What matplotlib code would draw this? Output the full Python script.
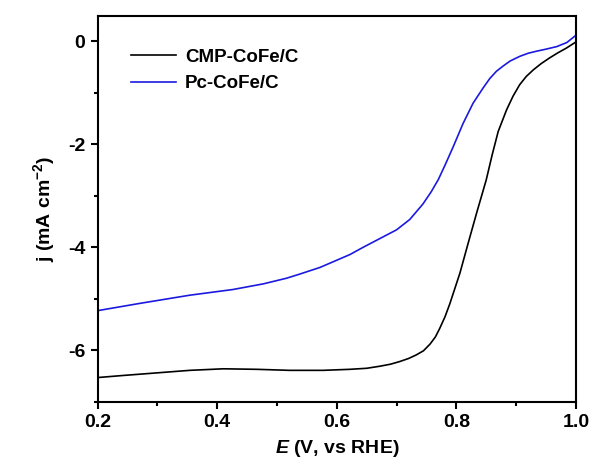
import matplotlib
matplotlib.use("Agg")
import matplotlib.pyplot as plt
from matplotlib.ticker import MultipleLocator

plt.rcParams['font.family'] = ['Liberation Sans', 'DejaVu Sans']
plt.rcParams['mathtext.fontset'] = 'custom'
plt.rcParams['mathtext.it'] = 'Liberation Sans:italic:bold'
plt.rcParams['mathtext.rm'] = 'Liberation Sans:bold'
plt.rcParams['mathtext.bf'] = 'Liberation Sans:bold'

# CMP-CoFe/C (black)
cmp_E = [0.200, 0.242, 0.298, 0.354, 0.410, 0.466, 0.521, 0.577, 0.622, 0.650,
         0.672, 0.690, 0.705, 0.720, 0.733, 0.745, 0.756, 0.765, 0.772, 0.781,
         0.789, 0.806, 0.820, 0.834, 0.850, 0.860, 0.870, 0.884, 0.895, 0.906,
         0.917, 0.929, 0.942, 0.956, 0.970, 0.984, 1.000]
cmp_j = [-6.53, -6.49, -6.44, -6.39, -6.36, -6.37, -6.39, -6.39, -6.37, -6.35,
         -6.31, -6.27, -6.22, -6.16, -6.09, -6.01, -5.88, -5.74, -5.58, -5.35,
         -5.10, -4.50, -3.91, -3.33, -2.69, -2.20, -1.75, -1.33, -1.06, -0.84,
         -0.68, -0.55, -0.43, -0.32, -0.22, -0.13, -0.01]

# Pc-CoFe/C (blue)
pc_E = [0.200, 0.270, 0.354, 0.426, 0.477, 0.516, 0.538, 0.572, 0.588, 0.622,
        0.644, 0.672, 0.700, 0.722, 0.744, 0.758, 0.770, 0.782, 0.795, 0.811,
        0.828, 0.845, 0.856, 0.867, 0.878, 0.890, 0.906, 0.920, 0.934, 0.950,
        0.968, 0.985, 1.000]
pc_j = [-5.23, -5.09, -4.93, -4.82, -4.71, -4.60, -4.52, -4.39, -4.31, -4.14,
        -4.00, -3.83, -3.66, -3.46, -3.16, -2.92, -2.68, -2.38, -2.04, -1.60,
        -1.20, -0.90, -0.72, -0.58, -0.48, -0.38, -0.29, -0.23, -0.19, -0.15,
        -0.10, -0.02, 0.12]

labels = ['CMP-CoFe/C', 'Pc-CoFe/C']
colors = ['#000000', '#1a1adf']

fig = plt.figure(figsize=(5.94, 4.76), dpi=100)
ax = fig.add_axes([0.1645, 0.156, 0.805, 0.811])

ax.plot(cmp_E, cmp_j, color=colors[0], lw=1.2, label=labels[0])
ax.plot(pc_E, pc_j, color=colors[1], lw=1.2, label=labels[1])

ax.set_xlim(0.2, 1.0)
ax.set_ylim(-7, 0.5)
ax.xaxis.set_minor_locator(MultipleLocator(0.1))
ax.yaxis.set_minor_locator(MultipleLocator(1))
ax.set_xticks([0.2, 0.4, 0.6, 0.8, 1.0])
ax.set_xticklabels(['0.2', '0.4', '0.6', '0.8', '1.0'])
ax.set_yticks([0, -2, -4, -6])
ax.set_yticklabels(['0', '-2', '-4', '-6'])

for s in ax.spines.values():
    s.set_linewidth(1.5)
ax.tick_params(which='major', direction='out', length=5, width=1.5,
               labelsize=14, top=False, right=False, pad=4)
ax.tick_params(which='minor', direction='out', length=3, width=1.5,
               top=False, right=False)
for lbl in ax.get_xticklabels() + ax.get_yticklabels():
    lbl.set_fontweight('bold')

ax.set_xlabel(r'$E$ (V, vs RHE)', fontsize=14, fontweight='bold', labelpad=5)
ax.set_ylabel(r'j (mA cm$^{-2}$)', fontsize=14, fontweight='bold', labelpad=8)

leg = ax.legend(loc='upper left', frameon=False, prop={'weight': 'bold', 'size': 13.5},
                handlelength=2.4, handletextpad=0.45, labelspacing=0.5,
                bbox_to_anchor=(0.035, 0.958))

fig.savefig('out.png', dpi=100)
